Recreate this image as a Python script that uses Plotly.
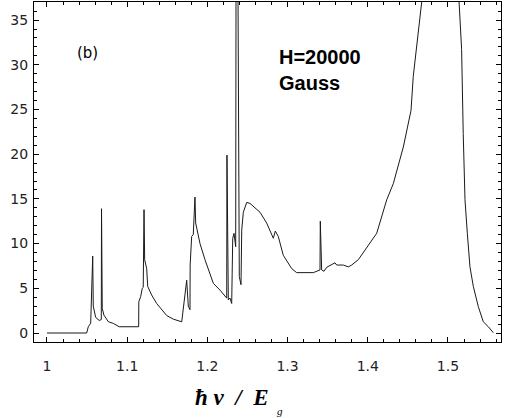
import plotly.graph_objects as go

# photon energy (hbar*nu / E_g) and absorption values
energy = [1.0, 1.0495, 1.0515, 1.0545, 1.057, 1.0577, 1.0607, 1.0652,
          1.0677, 1.068, 1.0689, 1.071, 1.0765, 1.0827, 1.090, 1.1143,
          1.1145, 1.1168, 1.1188, 1.1200, 1.121, 1.1218, 1.1243, 1.1256,
          1.1305, 1.1368, 1.1493, 1.1575, 1.168, 1.170, 1.1742, 1.1762,
          1.1783, 1.1785, 1.1804, 1.1824, 1.1845, 1.1854, 1.1908, 1.197,
          1.2074, 1.2157, 1.2241, 1.2244, 1.2261, 1.2282, 1.2303, 1.2316,
          1.2332, 1.2353, 1.2358, 1.2378, 1.2398, 1.2419, 1.2428, 1.2448,
          1.249, 1.2531, 1.2656, 1.2739, 1.2822, 1.2847, 1.2884, 1.2946,
          1.3051, 1.3113, 1.332, 1.3404, 1.3408, 1.3425, 1.3454, 1.3488,
          1.355, 1.3591, 1.3612, 1.3695, 1.3757, 1.3799, 1.3882, 1.3986,
          1.4111, 1.4236, 1.4318, 1.4443, 1.4539, 1.4567, 1.4601, 1.463,
          1.467, 1.49, 1.513, 1.517, 1.519, 1.5212, 1.5241, 1.5274,
          1.5316, 1.5378, 1.544, 1.5503, 1.5565]
absorption = [0.0, 0.0, 0.7, 1.1, 8.6, 3.0, 1.75, 1.4,
              1.5, 13.9, 2.75, 2.0, 1.26, 1.07, 0.7, 0.7,
              3.5, 4.06, 5.0, 5.1, 13.8, 8.2, 7.2, 5.2,
              4.25, 3.3, 1.95, 1.55, 1.25, 2.8, 5.9, 3.0,
              2.6, 7.6, 10.8, 11.0, 15.2, 12.3, 10.0, 8.2,
              5.55, 4.8, 3.9, 19.9, 3.7, 3.9, 3.3, 10.6,
              11.15, 9.65, 45.0, 45.0, 6.3, 5.4, 11.5, 13.5,
              14.6, 14.5, 13.5, 12.3, 10.6, 11.4, 10.8, 8.7,
              7.2, 6.75, 6.75, 7.05, 12.5, 7.05, 6.9, 7.35,
              7.6, 7.85, 7.6, 7.6, 7.4, 7.6, 8.2, 9.5,
              11.15, 14.9, 16.7, 20.8, 24.9, 28.7, 31.7, 35.0,
              38.4, 55.0, 38.4, 31.7, 22.3, 14.9, 11.15, 7.4,
              5.2, 2.95, 1.26, 0.7, 0.03]

x_ticks = [1.0, 1.1, 1.2, 1.3, 1.4, 1.5]
x_tick_labels = ["1", "1.1", "1.2", "1.3", "1.4", "1.5"]
y_ticks = [0, 5, 10, 15, 20, 25, 30, 35]
y_tick_labels = ["0", "5", "10", "15", "20", "25", "30", "35"]

fig = go.Figure()
fig.add_trace(go.Scatter(x=energy, y=absorption, mode="lines",
                         line=dict(color="#1a1a1a", width=1),
                         showlegend=False, hoverinfo="skip"))

tickfont = dict(family="DejaVu Sans", size=14, color="#222222")

fig.update_layout(
    width=505, height=418,
    margin=dict(l=34, r=4, t=2, b=76, autoexpand=False),
    paper_bgcolor="white", plot_bgcolor="white",
    xaxis=dict(range=[0.9838, 1.5661], tickvals=x_ticks, ticktext=x_tick_labels,
               ticks="inside", ticklen=5, tickwidth=1, tickcolor="black",
               minor=dict(dtick=0.02, tick0=1.0, ticks="inside", ticklen=3,
                          tickcolor="black", showgrid=False),
               showline=True, linecolor="black", linewidth=1, mirror="ticks",
               showgrid=False, zeroline=False, tickfont=tickfont,
               ticklabelstandoff=11, automargin=False),
    yaxis=dict(range=[-1.007, 37.02], tickvals=y_ticks, ticktext=y_tick_labels,
               ticks="inside", ticklen=5, tickwidth=1, tickcolor="black",
               minor=dict(dtick=1, tick0=0, ticks="inside", ticklen=3,
                          tickcolor="black", showgrid=False),
               showline=True, linecolor="black", linewidth=1, mirror="ticks",
               showgrid=False, zeroline=False, tickfont=tickfont,
               ticklabelstandoff=2, automargin=False),
)

fig.add_annotation(x=0.088, y=0.85, xref="paper", yref="paper",
                   text="(b)", showarrow=False, xanchor="left", yanchor="middle",
                   font=dict(family="DejaVu Sans", size=15, color="black"))
fig.add_annotation(x=0.52, y=0.801, xref="paper", yref="paper",
                   text="<b>H=20000<br>Gauss</b>", showarrow=False,
                   xanchor="left", yanchor="middle", align="left",
                   font=dict(family="Liberation Sans", size=20, color="black"))
fig.add_annotation(x=0.34, y=-0.162, xref="paper", yref="paper",
                   text="<b><i>ħ\u00a0ν\u00a0\u00a0/\u00a0\u00a0E</i></b>",
                   showarrow=False, xanchor="left", yanchor="middle",
                   font=dict(family="Liberation Serif", size=23, color="black"))
fig.add_annotation(x=0.516, y=-0.203, xref="paper", yref="paper",
                   text="<i>g</i>",
                   showarrow=False, xanchor="left", yanchor="middle",
                   font=dict(family="Liberation Serif", size=11, color="black"))

fig.write_html("out.html", config={"displayModeBar": False},
               post_script="document.body.style.margin='0px';")
